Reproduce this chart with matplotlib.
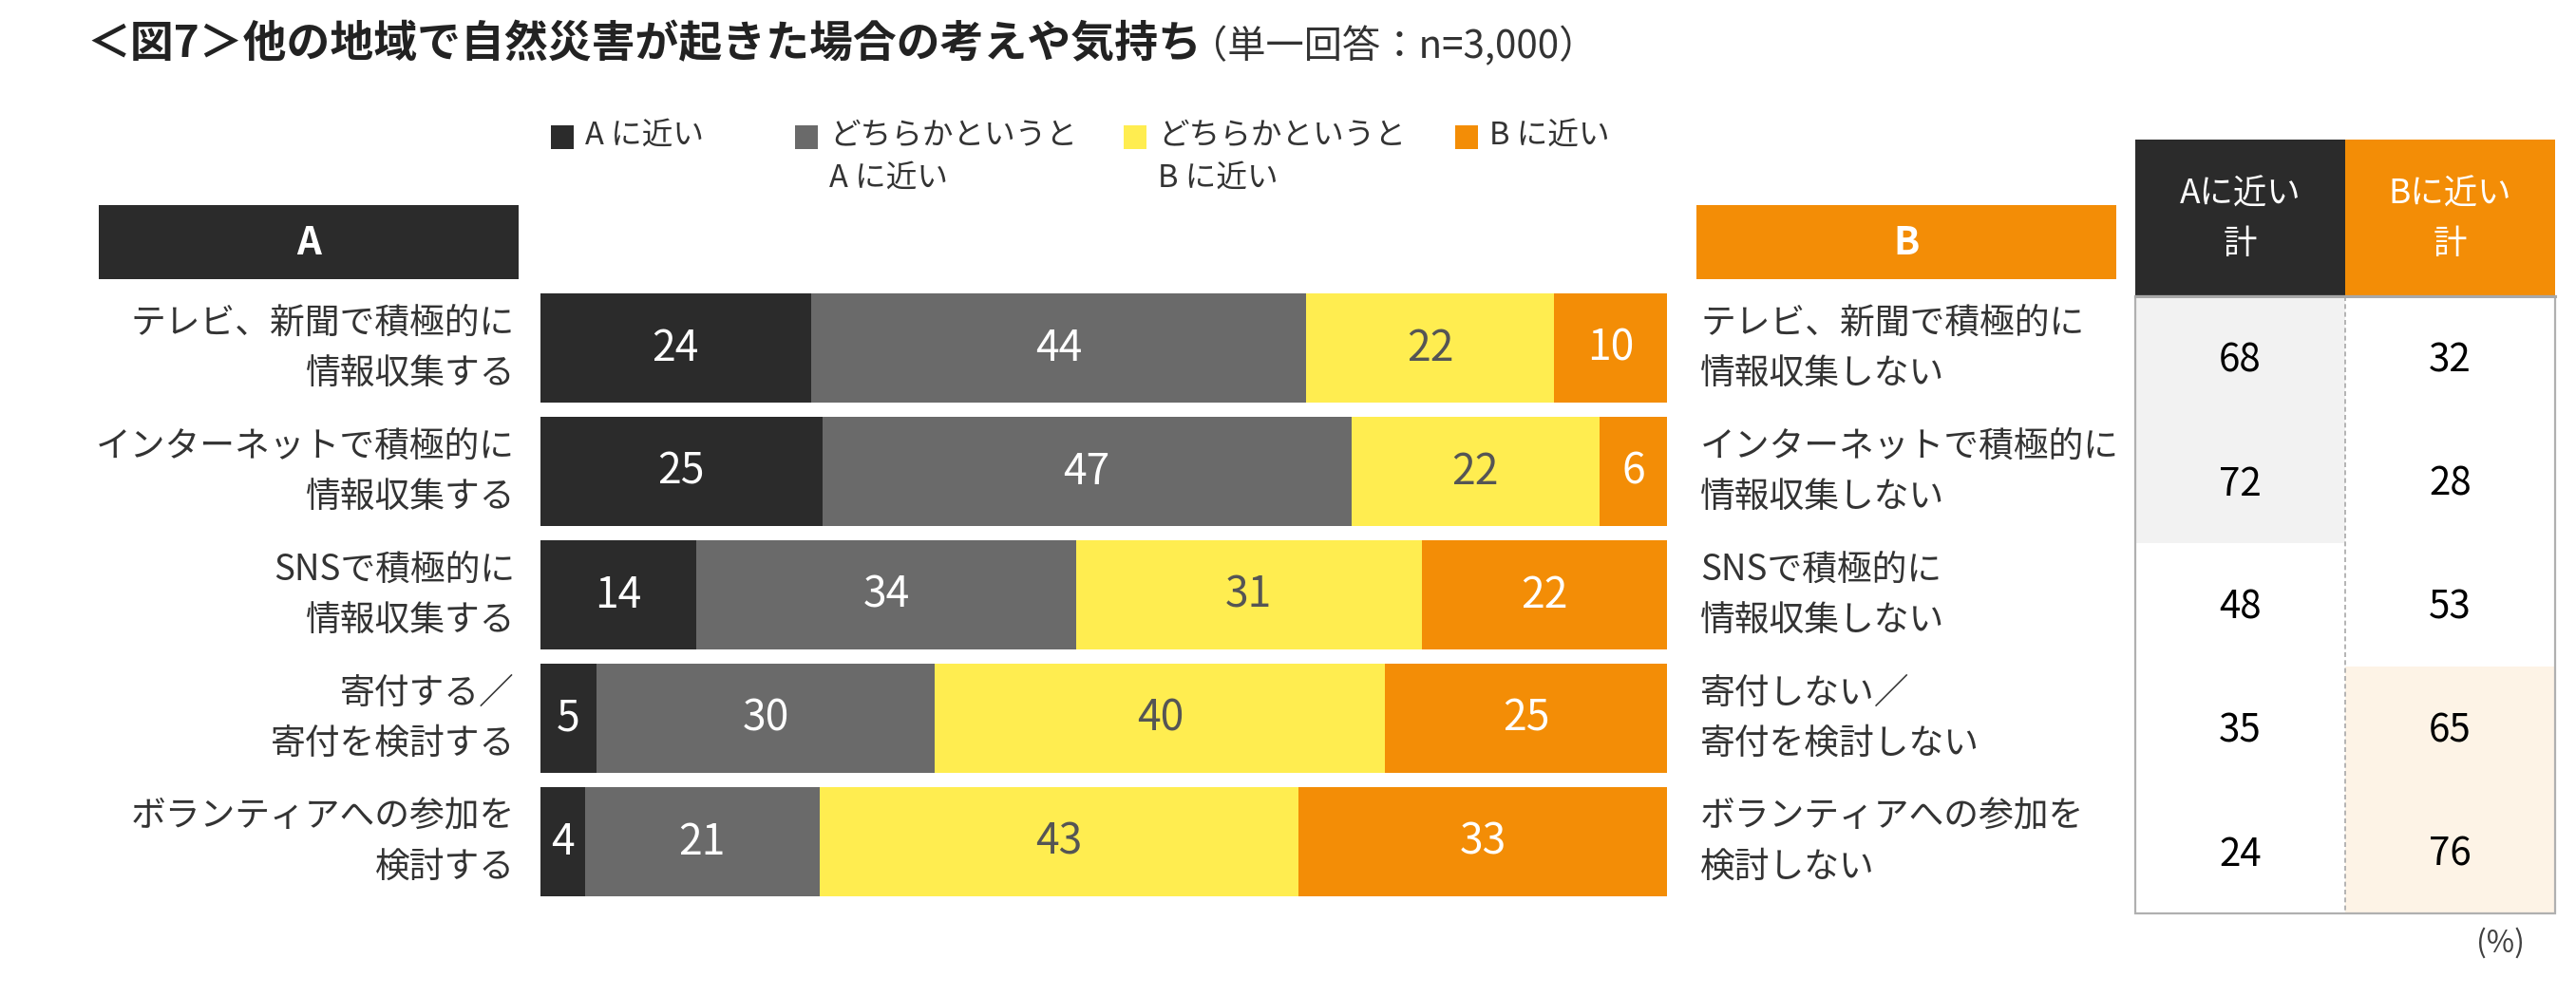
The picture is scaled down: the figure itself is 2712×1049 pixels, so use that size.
import numpy as np
import matplotlib
matplotlib.use("Agg")
import matplotlib.pyplot as plt
from matplotlib.patches import Rectangle

plt.rcParams['font.family'] = ['Noto Sans CJK JP', 'DejaVu Sans']

# data
labels_a = ["テレビ、新聞で積極的に\n情報収集する",
            "インターネットで積極的に\n情報収集する",
            "SNSで積極的に\n情報収集する",
            "寄付する／\n寄付を検討する",
            "ボランティアへの参加を\n検討する"]
labels_b = ["テレビ、新聞で積極的に\n情報収集しない",
            "インターネットで積極的に\n情報収集しない",
            "SNSで積極的に\n情報収集しない",
            "寄付しない／\n寄付を検討しない",
            "ボランティアへの参加を\n検討しない"]
series_names = ["A に近い", "どちらかというと\nA に近い",
                "どちらかというと\nB に近い", "B に近い"]
near_a = [24, 25, 14, 5, 4]
lean_a = [44, 47, 34, 30, 21]
lean_b = [22, 22, 31, 40, 43]
near_b = [10, 6, 22, 25, 33]
total_a = [68, 72, 48, 35, 24]
total_b = [32, 28, 53, 65, 76]
table_heads = ["Aに近い\n計", "Bに近い\n計"]

colors = ["#2b2b2b", "#6a6a6a", "#ffed50", "#f38d06"]
text_colors = ["white", "white", "#555555", "white"]
label_col = "#333333"

W, H = 2712, 1049
fig = plt.figure(figsize=(W / 100, H / 100), dpi=100)

# overlay in pixel coordinates for texts, headers and the table
ax0 = fig.add_axes([0, 0, 1, 1])
ax0.set_xlim(0, W)
ax0.set_ylim(H, 0)
ax0.axis("off")

# title
ax0.text(91, 47, "＜図7＞他の地域で自然災害が起きた場合の考えや気持ち", fontsize=33,
         fontweight="bold", color="#222222", ha="left", va="center")
ax0.text(1252, 49, "（単一回答：n=3,000）", fontsize=29, color="#333333",
         ha="left", va="center")


def multiline(x, yc, txt, pitch, **kw):
    lines = txt.split("\n")
    n = len(lines)
    for i, ln in enumerate(lines):
        ax0.text(x, yc + (i - (n - 1) / 2) * pitch, ln, va="center", **kw)


# legend
leg_sq_x = [580, 837, 1183, 1532]
for i, name in enumerate(series_names):
    ax0.add_patch(Rectangle((leg_sq_x[i], 132), 24, 25, color=colors[i], lw=0))
    lines = name.split("\n")
    for j, ln in enumerate(lines):
        ax0.text(leg_sq_x[i] + 36, 143 + j * 45, ln, fontsize=23.5, color=label_col,
                 ha="left", va="center")

# A / B header boxes
ax0.add_patch(Rectangle((104, 216), 442, 78, color=colors[0], lw=0))
ax0.text(325, 256, "A", fontsize=29, fontweight="bold", color="white",
         ha="center", va="center")
ax0.add_patch(Rectangle((1786, 216), 442, 78, color=colors[3], lw=0))
ax0.text(2007, 256, "B", fontsize=29, fontweight="bold", color="white",
         ha="center", va="center")

# row labels
row_h = 130
bar_c0 = 366.5
for i in range(len(labels_a)):
    yc = bar_c0 + i * row_h
    multiline(542, yc, labels_a[i], 53, fontsize=26.5, color=label_col, ha="right")
    multiline(1790, yc, labels_b[i], 53, fontsize=26.5, color=label_col, ha="left")

# stacked bars
bar_ax = fig.add_axes([569 / W, (H - (bar_c0 + 4.5 * row_h)) / H,
                       1186 / W, 5 * row_h / H])
vals = np.array([near_a, lean_a, lean_b, near_b], dtype=float)
rows = np.arange(len(labels_a))
share = vals / vals.sum(axis=0) * 100
left = np.zeros(len(rows))
for k in range(4):
    cont = bar_ax.barh(rows, share[k], left=left, height=115 / row_h,
                       color=colors[k], lw=0)
    bar_ax.bar_label(cont, labels=[str(int(v)) for v in vals[k]],
                     label_type="center", fontsize=32, color=text_colors[k])
    left += share[k]
bar_ax.set_xlim(0, 100)
bar_ax.set_ylim(len(rows) - 0.5, -0.5)
bar_ax.axis("off")

# totals table
tx0, tmid, tx1 = 2248, 2469, 2690
ty_head, ty0 = 147, 312
ax0.add_patch(Rectangle((tx0, ty_head), tmid - tx0, ty0 - ty_head, color=colors[0], lw=0))
ax0.add_patch(Rectangle((tmid, ty_head), tx1 - tmid, ty0 - ty_head, color=colors[3], lw=0))
for j, head in enumerate(table_heads):
    cx = (tx0 + tmid) / 2 if j == 0 else (tmid + tx1) / 2
    multiline(cx, 231, head, 52, fontsize=25.5, color="white", ha="center")

for i in range(len(total_a)):
    y = ty0 + i * row_h
    if total_a[i] >= 60:
        ax0.add_patch(Rectangle((tx0, y), tmid - tx0, row_h, color="#f2f2f2", lw=0))
    if total_b[i] >= 60:
        ax0.add_patch(Rectangle((tmid, y), tx1 - tmid, row_h, color="#fdf3e6", lw=0))
    ax0.text((tx0 + tmid) / 2, y + 68, str(total_a[i]), fontsize=29, color="black",
             ha="center", va="center")
    ax0.text((tmid + tx1) / 2, y + 68, str(total_b[i]), fontsize=29, color="black",
             ha="center", va="center")

ty1 = ty0 + len(total_a) * row_h
ax0.add_patch(Rectangle((tx0, ty0), tx1 - tx0, ty1 - ty0, fill=False,
                        ec="#b0b0b0", lw=1.6))
ax0.plot([tx0, tx1], [ty0, ty0], color="#a8a8a8", lw=2.2)
ax0.plot([tmid, tmid], [ty0, ty1], color="#a8a8a8", lw=1.2, ls=(0, (3, 2)))

ax0.text(2633, 993, "(%)", fontsize=23, color="#404040", ha="center", va="center")

fig.savefig("out.png", dpi=100)
